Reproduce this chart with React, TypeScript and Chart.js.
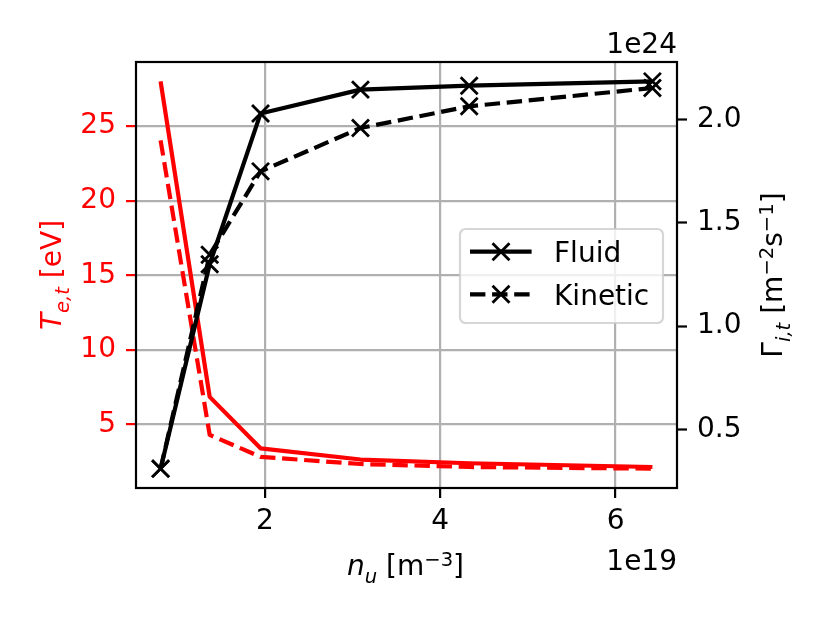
import { useEffect, useRef } from 'react';
import { Chart, ChartConfiguration, Plugin } from 'chart.js/auto';

// upstream density n_u, in units of 1e19 m^-3
const DENSITY = [0.81, 1.37, 1.95, 3.09, 4.33, 6.42];
// target electron temperature T_e,t [eV]
const TE_FLUID = [28.0, 6.85, 3.4, 2.65, 2.4, 2.15];
const TE_KINETIC = [24.05, 4.3, 2.83, 2.35, 2.15, 2.04];
// target ion flux Gamma_i,t, in units of 1e24 m^-2 s^-1
const FLUX_FLUID = [0.31, 1.3, 2.03, 2.146, 2.165, 2.186];
const FLUX_KINETIC = [0.31, 1.346, 1.75, 1.96, 2.065, 2.154];

const X_TICKS = [2, 4, 6];
const TE_TICKS = [5, 10, 15, 20, 25];
const FLUX_TICKS = [0.5, 1.0, 1.5, 2.0];
const LEGEND_ITEMS = ['Fluid', 'Kinetic'];

const FAMILY = '"DejaVu Sans"';
const SIZE = 28;
const DASH = [15.4, 6.7];
const GRID = '#b0b0b0';

// matplotlib style 5% margins
const span = (...series: number[][]) => {
  const all = series.flat();
  const lo = Math.min(...all);
  const hi = Math.max(...all);
  const m = 0.05 * (hi - lo);
  return { min: lo - m, max: hi + m };
};

const points = (ys: number[]) => DENSITY.map((x, i) => ({ x, y: ys[i] }));

type Run = { t: string; italic?: boolean; sub?: boolean; sup?: boolean };

function drawRich(
  ctx: CanvasRenderingContext2D,
  runs: Run[],
  x: number,
  y: number,
  rotated: boolean,
  color: string
) {
  const fontFor = (r: Run) =>
    `${r.italic ? 'italic ' : ''}${r.sub || r.sup ? SIZE * 0.7 : SIZE}px ${FAMILY}`;
  let total = 0;
  const widths = runs.map(r => {
    ctx.font = fontFor(r);
    const w = ctx.measureText(r.t).width;
    total += w;
    return w;
  });
  ctx.save();
  ctx.translate(x, y);
  if (rotated) ctx.rotate(-Math.PI / 2);
  ctx.fillStyle = color;
  ctx.textAlign = 'left';
  ctx.textBaseline = 'alphabetic';
  let cx = -total / 2;
  runs.forEach((r, i) => {
    ctx.font = fontFor(r);
    const dy = r.sub ? SIZE * 0.3 : r.sup ? -SIZE * 0.33 : 0;
    ctx.fillText(r.t, cx, dy);
    cx += widths[i];
  });
  ctx.restore();
}

function drawCross(ctx: CanvasRenderingContext2D, x: number, y: number, r: number) {
  const d = r * Math.SQRT1_2;
  ctx.beginPath();
  ctx.moveTo(x - d, y - d);
  ctx.lineTo(x + d, y + d);
  ctx.moveTo(x - d, y + d);
  ctx.lineTo(x + d, y - d);
  ctx.stroke();
}

// axes frame (all four spines)
const framePlugin: Plugin<'line'> = {
  id: 'frame',
  afterDatasetsDraw(chart) {
    const { ctx, chartArea: a } = chart;
    ctx.save();
    ctx.strokeStyle = '#000';
    ctx.lineWidth = 2.2;
    ctx.strokeRect(a.left, a.top, a.right - a.left, a.bottom - a.top);
    ctx.restore();
  },
};

// axis titles, offset texts and the legend
const labelsPlugin: Plugin<'line'> = {
  id: 'labels',
  afterDraw(chart) {
    const { ctx, chartArea: a } = chart;
    const midY = (a.top + a.bottom) / 2;

    drawRich(
      ctx,
      [{ t: 'T', italic: true }, { t: 'e,t', italic: true, sub: true }, { t: ' [eV]' }],
      61, midY, true, 'red'
    );
    drawRich(
      ctx,
      [
        { t: 'Γ' },
        { t: 'i,t', italic: true, sub: true },
        { t: ' [m' },
        { t: '−2', sup: true },
        { t: 's' },
        { t: '−1', sup: true },
        { t: ']' },
      ],
      782, midY, true, '#000'
    );
    drawRich(
      ctx,
      [{ t: 'n', italic: true }, { t: 'u', italic: true, sub: true }, { t: ' [m' }, { t: '−3', sup: true }, { t: ']' }],
      (a.left + a.right) / 2 - 1, 575, false, '#000'
    );

    ctx.save();
    ctx.font = `${SIZE}px ${FAMILY}`;
    ctx.fillStyle = '#000';
    ctx.textAlign = 'right';
    ctx.textBaseline = 'alphabetic';
    ctx.fillText('1e24', a.right, a.top - 9);
    ctx.fillText('1e19', a.right, 569.5);
    ctx.restore();

    // legend box
    const items = chart.data.datasets.filter(d => LEGEND_ITEMS.includes(String(d.label)));
    const bw = 203;
    const bh = 94;
    const bx = a.right - 14 - bw;
    const by = 229;
    ctx.save();
    ctx.beginPath();
    ctx.roundRect(bx, by, bw, bh, 5.6);
    ctx.fillStyle = 'rgba(255,255,255,0.8)';
    ctx.fill();
    ctx.strokeStyle = 'rgba(204,204,204,0.8)';
    ctx.lineWidth = 2.2;
    ctx.stroke();
    items.forEach((d: any, i) => {
      const cy = by + 22.7 + i * 42.6;
      const x0 = bx + 10;
      ctx.strokeStyle = d.borderColor;
      ctx.lineWidth = d.borderWidth;
      ctx.setLineDash(d.borderDash || []);
      ctx.beginPath();
      ctx.moveTo(x0, cy);
      ctx.lineTo(x0 + 61.6, cy);
      ctx.stroke();
      ctx.setLineDash([]);
      ctx.strokeStyle = d.pointBorderColor;
      ctx.lineWidth = d.pointBorderWidth;
      drawCross(ctx, x0 + 31, cy, d.pointRadius);
      ctx.fillStyle = '#000';
      ctx.font = `${SIZE}px ${FAMILY}`;
      ctx.textAlign = 'left';
      ctx.textBaseline = 'alphabetic';
      ctx.fillText(String(d.label), bx + 94, cy + 10.2);
    });
    ctx.restore();
  },
};

export default function App() {
  const chartRef = useRef<HTMLCanvasElement>(null);
  const chartInstance = useRef<Chart | null>(null);

  useEffect(() => {
    if (!chartRef.current) return;
    document.body.style.margin = '0';

    if (chartInstance.current) {
      chartInstance.current.destroy();
    }

    const ctx = chartRef.current.getContext('2d');
    if (!ctx) return;

    Chart.defaults.font.family = FAMILY;
    Chart.defaults.font.size = SIZE;

    const xr = span(DENSITY);
    const ter = span(TE_FLUID, TE_KINETIC);
    const fr = span(FLUX_FLUID, FLUX_KINETIC);

    const marker = {
      pointStyle: 'crossRot' as const,
      pointRadius: 12,
      pointHoverRadius: 12,
      pointBorderWidth: 2.8,
      pointBorderColor: '#000',
      pointBackgroundColor: '#000',
    };

    const config: ChartConfiguration<'line'> = {
      type: 'line',
      data: {
        datasets: [
          {
            label: 'Fluid',
            data: points(FLUX_FLUID),
            yAxisID: 'yFlux',
            borderColor: '#000',
            borderWidth: 4.2,
            ...marker,
          },
          {
            label: 'Kinetic',
            data: points(FLUX_KINETIC),
            yAxisID: 'yFlux',
            borderColor: '#000',
            borderWidth: 4.2,
            borderDash: DASH,
            ...marker,
          },
          {
            label: 'Fluid Te',
            data: points(TE_FLUID),
            yAxisID: 'yTe',
            borderColor: 'red',
            borderWidth: 4.2,
            pointRadius: 0,
          },
          {
            label: 'Kinetic Te',
            data: points(TE_KINETIC),
            yAxisID: 'yTe',
            borderColor: 'red',
            borderWidth: 4.2,
            borderDash: DASH,
            pointRadius: 0,
          },
        ],
      },
      options: {
        responsive: false,
        animation: false,
        events: [],
        layout: { padding: { top: 62, left: 0, right: 0, bottom: 0 } },
        elements: { line: { tension: 0, borderJoinStyle: 'round', fill: false } },
        plugins: {
          legend: { display: false },
          tooltip: { enabled: false },
          title: { display: false },
        },
        scales: {
          x: {
            type: 'linear',
            min: xr.min,
            max: xr.max,
            afterFit: s => { s.height = 135; },
            afterBuildTicks: s => { s.ticks = X_TICKS.map(value => ({ value })); },
            border: { display: false },
            grid: { color: GRID, lineWidth: 2.2, tickColor: '#000', tickWidth: 2.2, tickLength: 10 },
            ticks: { color: '#000', padding: 7, maxRotation: 0, autoSkip: false, callback: v => String(v) },
          },
          yTe: {
            type: 'linear',
            position: 'left',
            min: ter.min,
            max: ter.max,
            afterFit: s => { s.width = 136; },
            afterBuildTicks: s => { s.ticks = TE_TICKS.map(value => ({ value })); },
            border: { display: false },
            grid: { color: GRID, lineWidth: 2.2, tickColor: 'red', tickWidth: 2.2, tickLength: 10 },
            ticks: { color: 'red', padding: 10, callback: v => String(v) },
          },
          yFlux: {
            type: 'linear',
            position: 'right',
            min: fr.min,
            max: fr.max,
            afterFit: s => { s.width = 153; },
            afterBuildTicks: s => { s.ticks = FLUX_TICKS.map(value => ({ value })); },
            border: { display: false },
            grid: { drawOnChartArea: false, tickColor: '#000', tickWidth: 2.2, tickLength: 10 },
            ticks: { color: '#000', padding: 10, callback: v => Number(v).toFixed(1) },
          },
        },
      },
      plugins: [framePlugin, labelsPlugin],
    };

    chartInstance.current = new Chart(ctx, config);

    return () => {
      if (chartInstance.current) {
        chartInstance.current.destroy();
        chartInstance.current = null;
      }
    };
  }, []);

  return (
    <div style={{ width: 830, height: 623, background: '#fff' }}>
      <canvas ref={chartRef} width={830} height={623} style={{ display: 'block' }}></canvas>
    </div>
  );
}
